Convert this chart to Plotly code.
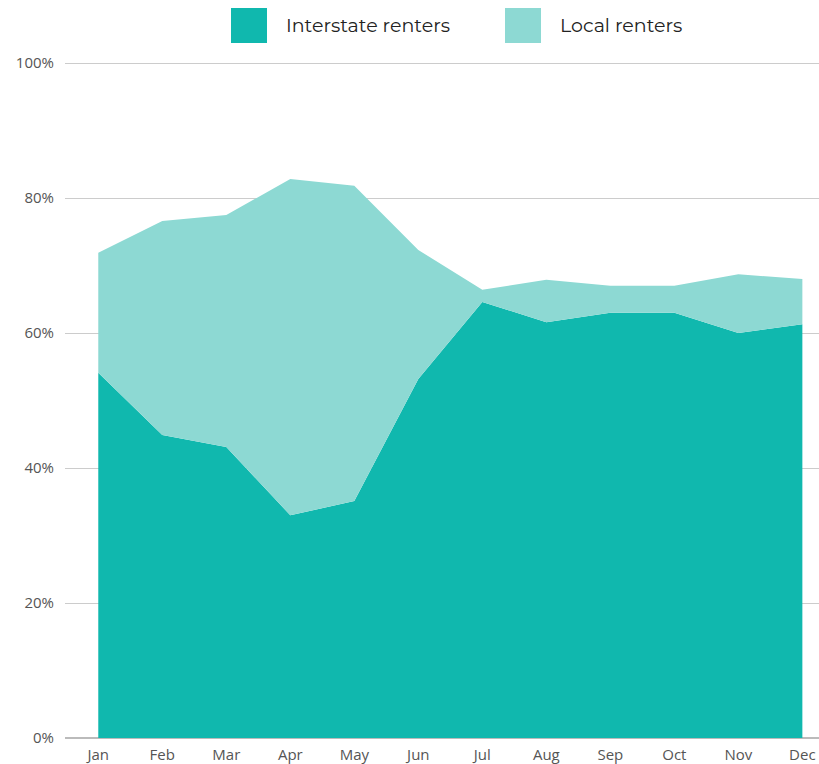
import plotly.graph_objects as go

months = ["Jan", "Feb", "Mar", "Apr", "May", "Jun", "Jul", "Aug", "Sep", "Oct", "Nov", "Dec"]
interstate = [54.1, 44.9, 43.1, 33.0, 35.1, 53.2, 64.6, 61.6, 63.0, 63.0, 60.0, 61.3]
total = [71.9, 76.6, 77.5, 82.8, 81.8, 72.3, 66.4, 67.9, 67.0, 67.0, 68.7, 68.0]
local = [round(t - i, 1) for t, i in zip(total, interstate)]
ytick_vals = [0, 20, 40, 60, 80, 100]
ytick_text = ["0%", "20%", "40%", "60%", "80%", "100%"]

dark = "#10b8ae"
light = "#8dd9d3"

fig = go.Figure()
fig.add_trace(go.Scatter(x=months, y=interstate, name="Interstate renters", stackgroup="one",
                         mode="lines", line=dict(width=0, color=dark), fillcolor=dark,
                         hoverinfo="y"))
fig.add_trace(go.Scatter(x=months, y=local, name="Local renters", stackgroup="one",
                         mode="lines", line=dict(width=0, color=light), fillcolor=light,
                         hoverinfo="y"))

L, R = 65, 819
T, B = 62, 738
W = R - L
H = B - T

def px(x):
    return (x - L) / W

def py(y):
    return (B - y) / H

# Legend drawn manually
legend_items = [("Interstate renters", dark, 231, 284), ("Local renters", light, 505, 558)]
shapes = []
annotations = []
for label, col, sx, tx in legend_items:
    shapes.append(dict(type="rect", xref="paper", yref="paper", x0=px(sx), x1=px(sx + 36),
                       y0=py(43), y1=py(8), fillcolor=col, line=dict(width=0)))
    annotations.append(dict(text=label, xref="paper", yref="paper", x=px(tx), y=py(25.5),
                            xanchor="left", yanchor="middle", showarrow=False,
                            font=dict(family="Montserrat, 'Noto Sans', sans-serif", size=19, color="#222222")))

fig.update_layout(
    width=819, height=764,
    margin=dict(l=L, r=819 - R, t=T, b=764 - B, pad=0),
    paper_bgcolor="white", plot_bgcolor="white",
    showlegend=False,
    shapes=shapes, annotations=annotations,
    font=dict(family="'Open Sans', sans-serif", color="#555555", size=14),
    xaxis=dict(type="category", range=[-0.52, 11.26], showgrid=True,
               gridcolor="rgba(255,255,255,0.13)", gridwidth=1, layer="above traces",
               showline=False, zeroline=False, ticks="", ticklabelstandoff=6,
               tickfont=dict(size=15, color="#555555")),
    yaxis=dict(range=[0, 100.15], tickvals=ytick_vals, ticktext=ytick_text,
               showgrid=True, gridcolor="#cccccc", gridwidth=1, zeroline=True,
               zerolinecolor="#bbbbbb", zerolinewidth=2, showline=False, ticks="",
               ticklabelstandoff=10, tickfont=dict(size=15, color="#555555")),
)

fig.write_html("out.html", config={"displayModeBar": False},
               post_script="document.body.style.margin='0';")
